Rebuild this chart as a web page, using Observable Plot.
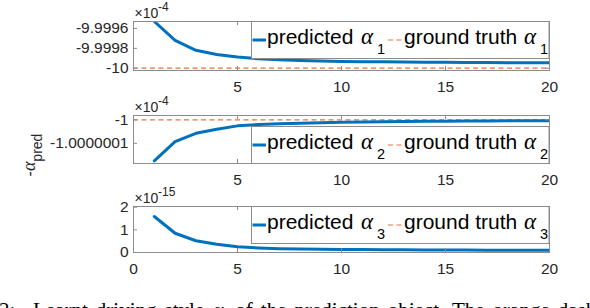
<!DOCTYPE html>
<html>
<head>
<meta charset="utf-8">
<script src="https://cdn.jsdelivr.net/npm/d3@7"></script>
<script src="https://cdn.jsdelivr.net/npm/@observablehq/plot@0.6"></script>
<style>
html, body { margin: 0; padding: 0; background: #fff; overflow: hidden; }
#fig { position: relative; width: 590px; height: 308px; overflow: hidden; background: #fff; }
#fig > svg { position: absolute; left: 0; }
#caption { position: absolute; left: 0; top: 300px; font-family: "Liberation Serif", "Times New Roman", serif; font-size: 21px; line-height: 21px; white-space: nowrap; color: #000; }
#caption span { position: absolute; white-space: nowrap; }
</style>
</head>
<body>
<div id="fig"></div>
<script>
// ---- data (values in the units shown on each axis, i.e. already scaled by the ×10^k factor) ----
const iterations = [1,2,3,4,5,6,7,8,9,10,11,12,13,14,15,16,17,18,19,20];
const alpha1Pred = [-9.99953,-9.99972,-9.99982,-9.999862,-9.999887,-9.999905,-9.999915,-9.999922,-9.999927,-9.999932,-9.999934,-9.999936,-9.999938,-9.999939,-9.99994,-9.999942,-9.999943,-9.999944,-9.999945,-9.999946];
const alpha2Pred = [-1.000000174,-1.0000000927,-1.0000000573,-1.00000004,-1.0000000256,-1.00000002,-1.0000000167,-1.000000014,-1.000000012,-1.0000000103,-1.000000009,-1.0000000081,-1.0000000073,-1.0000000064,-1.000000006,-1.0000000051,-1.0000000047,-1.0000000043,-1.0000000038,-1.0000000034];
const alpha3Pred = [1.59,0.85,0.52,0.36,0.25,0.2,0.17,0.155,0.145,0.135,0.13,0.125,0.12,0.115,0.11,0.107,0.104,0.102,0.1,0.098];
const alpha1Truth = -10;
const alpha2Truth = -1;
const alpha3Truth = 0;
const xTickLabels12 = [5, 10, 15, 20];
const xTickLabels3 = [0, 5, 10, 15, 20];
const xTickMarks = [0, 5, 10, 15, 20];
const yTicks1 = [-9.9996, -9.9998, -10];
const yTicks2 = [-1, -1.0000001];
const yTicks3 = [0, 1, 2];
const yDomain1 = [-10.000023, -9.99953];
const yDomain2 = [-1.0000001855, -0.9999999816];
const yDomain3 = [0, 2.03];
const exponents = ["-4", "-4", "-15"];
const legendSubs = ["1", "2", "3"];
const predLabel = "predicted";
const truthLabel = "ground truth";
const yLabelMain = "-";
const yLabelGreek = "α";
const yLabelSub = "pred";

const BLUE = "#0072BD";
const ORANGE = "#E8703F";
const AXC = "#8c8c8c";
const TXT = "#262626";
const FONT = '"Liberation Sans", Arial, Helvetica, sans-serif';
const SERIF = '"Liberation Serif", "Times New Roman", serif';

const fig = document.getElementById("fig");
const W = 590, ML = 133, MR = 41;
const innerW = W - ML - MR;

function panel({top, height, mt, mb, values, truth, yDomain, yTicks, xLabels, exponent}) {
  const innerH = height - mt - mb;
  const rows = iterations.map((x, i) => ({x, y: values[i]}));
  const svg = Plot.plot({
    width: W, height, marginLeft: ML, marginRight: MR, marginTop: mt, marginBottom: mb,
    style: {fontFamily: FONT, fontSize: "15.5px", color: TXT, background: "transparent", overflow: "visible"},
    x: {domain: [0, 20], label: null},
    y: {domain: yDomain, label: null},
    marks: [
      Plot.ruleY([truth], {y: d => d, stroke: ORANGE, strokeWidth: 1.2, strokeDasharray: "5,3.5"}),
      Plot.line(rows, {x: "x", y: "y", stroke: BLUE, strokeWidth: 3, clip: true}),
      Plot.frame({stroke: AXC, strokeWidth: 1}),
      Plot.tickX(xTickMarks, {x: d => d, insetTop: innerH - 4, stroke: AXC}),
      Plot.tickX(xTickMarks, {x: d => d, insetBottom: innerH - 4, stroke: AXC}),
      Plot.tickY(yTicks, {y: d => d, insetRight: innerW - 4, stroke: AXC}),
      Plot.tickY(yTicks, {y: d => d, insetLeft: innerW - 4, stroke: AXC}),
      Plot.axisX({ticks: xLabels, tickSize: 0, tickPadding: 10, tickFormat: d => String(d), label: null, fill: TXT}),
      Plot.axisY({ticks: yTicks, tickSize: 0, tickPadding: 5, tickFormat: d => String(d), label: null, fill: TXT}),
      Plot.text(["×10"], {text: d => d, frameAnchor: "top-left", textAnchor: "start", lineAnchor: "bottom", dx: 1, dy: -4, fontSize: 14, fill: TXT}),
      Plot.text([exponent], {text: d => d, frameAnchor: "top-left", textAnchor: "start", lineAnchor: "bottom", dx: 24.5, dy: -11, fontSize: 12, fill: TXT})
    ]
  });
  svg.style.top = top + "px";
  fig.appendChild(svg);
}

panel({top: 0, height: 90, mt: 21, mb: 20, values: alpha1Pred, truth: alpha1Truth, yDomain: yDomain1, yTicks: yTicks1, xLabels: xTickLabels12, exponent: exponents[0]});
panel({top: 90, height: 100, mt: 25, mb: 27, values: alpha2Pred, truth: alpha2Truth, yDomain: yDomain2, yTicks: yTicks2, xLabels: xTickLabels12, exponent: exponents[1]});
panel({top: 180, height: 100, mt: 26, mb: 28, values: alpha3Pred, truth: alpha3Truth, yDomain: yDomain3, yTicks: yTicks3, xLabels: xTickLabels3, exponent: exponents[2]});

// ---- overlay: legends and y label ----
const ov = d3.select(fig).append("svg")
  .attr("width", W).attr("height", 308)
  .style("position", "absolute").style("left", "0px").style("top", "0px")
  .style("font-family", FONT);

const legendTops = [21, 126, 206];
legendTops.forEach((T, i) => {
  const g = ov.append("g");
  g.append("rect").attr("x", 251.5).attr("y", T + 0.5).attr("width", 297.5).attr("height", 37)
    .attr("fill", "#fff").attr("stroke", AXC).attr("stroke-width", 1);
  g.append("line").attr("x1", 252.5).attr("x2", 266).attr("y1", T + 19).attr("y2", T + 19)
    .attr("stroke", BLUE).attr("stroke-width", 3);
  g.append("text").attr("x", 267).attr("y", T + 22.5).attr("font-size", 21).attr("fill", "#000").text(predLabel);
  g.append("text").attr("x", 361).attr("y", T + 22.5).attr("font-size", 23).attr("font-style", "italic")
    .attr("font-family", SERIF).attr("fill", "#000").text("α");
  g.append("text").attr("x", 377).attr("y", T + 32.5).attr("font-size", 14.5).attr("fill", "#000").text(legendSubs[i]);
  g.append("line").attr("x1", 388).attr("x2", 403).attr("y1", T + 19).attr("y2", T + 19)
    .attr("stroke", ORANGE).attr("stroke-width", 1.2).attr("stroke-dasharray", "5,3.5");
  g.append("text").attr("x", 404).attr("y", T + 22.5).attr("font-size", 21).attr("fill", "#000").text(truthLabel);
  g.append("text").attr("x", 524).attr("y", T + 22.5).attr("font-size", 23).attr("font-style", "italic")
    .attr("font-family", SERIF).attr("fill", "#000").text("α");
  g.append("text").attr("x", 540).attr("y", T + 32.5).attr("font-size", 14.5).attr("fill", "#000").text(legendSubs[i]);
});

const yl = ov.append("text")
  .attr("transform", "translate(35,155) rotate(-90)")
  .attr("text-anchor", "middle").attr("font-size", 16).attr("fill", TXT);
yl.append("tspan").text(yLabelMain);
yl.append("tspan").attr("font-family", SERIF).attr("font-style", "italic").attr("font-size", 18).text(yLabelGreek);
yl.append("tspan").attr("dy", 7).attr("font-size", 14).text(yLabelSub);

// ---- caption (cut off by the window, as in the reference) ----
const cap = document.createElement("div");
cap.id = "caption";
cap.innerHTML = '<span style="left:-1px">2:</span><span style="left:33px;word-spacing:2.8px">Learnt driving style <i>α</i><sub style="font-size:14px">i</sub> of the prediction object. The orange dashed</span>';
fig.appendChild(cap);
</script>
</body>
</html>
